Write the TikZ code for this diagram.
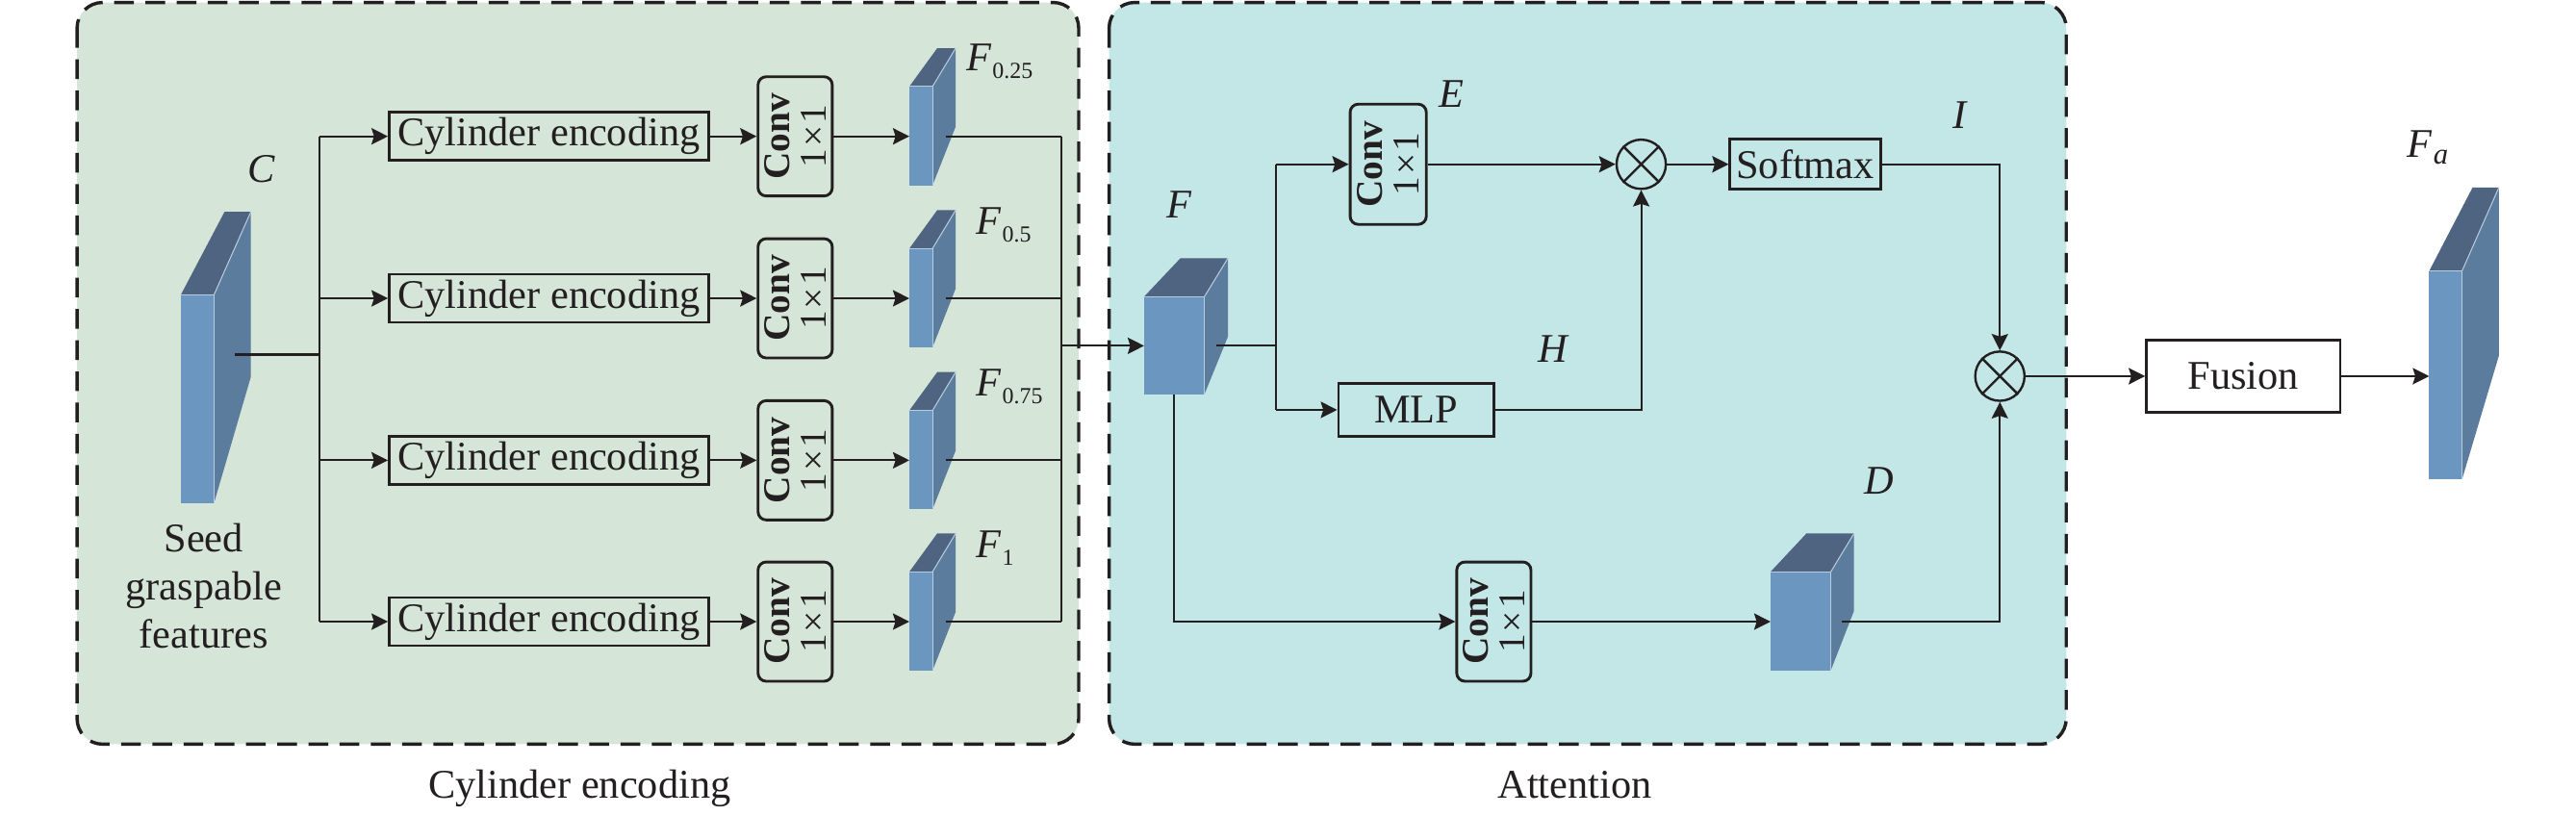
\documentclass[tikz,border=0pt]{standalone}
\usepackage{fontspec}
\setmainfont{Liberation Serif}
\usetikzlibrary{arrows.meta,shapes.geometric}
\definecolor{ink}{RGB}{35,31,32}
\definecolor{frontc}{RGB}{107,150,192}
\definecolor{topc}{RGB}{78,100,128}
\definecolor{sidec}{RGB}{92,124,158}
\definecolor{blockedge}{RGB}{185,205,225}
\definecolor{panelA}{RGB}{213,229,215}
\definecolor{panelB}{RGB}{195,230,230}
\newcommand\featblock[9]{%
  \fill[frontc] (#2,#7) rectangle (#3,#8);
  \fill[topc] (#2,#7) -- (#3,#7) -- (#4,#6) -- (#5,#6) -- cycle;
  \fill[sidec] (#3,#7) -- (#4,#6) -- (#4,#9) -- (#3,#8) -- cycle;
  \draw[blockedge,line width=0.3pt] (#2,#7) -- (#3,#7) -- (#3,#8);
  \draw[blockedge,line width=0.3pt] (#3,#7) -- (#4,#6);
}
\newcommand\fsub[1]{\textit{F}\kern0.2pt\raisebox{-2.3pt}{\fontsize{7}{8}\selectfont #1}}
\newcommand\convtext{\textbf{Conv}\\1\kern0.6pt×\kern0.6pt1}
\begin{document}
\begin{tikzpicture}[x=0.5pt,y=-0.5pt,
  every node/.style={font=\fontsize{12.4}{14.65}\selectfont, text=ink},
  conn/.style={draw=ink, line width=0.55pt},
  arr/.style={conn, -{Stealth[length=5pt,width=5pt,inset=0.8pt]}},
  box/.style={draw=ink, line width=0.85pt, inner sep=0pt},
  cylbox/.style={box, minimum width=97.15pt, minimum height=14.65pt},
  convbox/.style={box, rounded corners=2.5pt, rotate=90, minimum width=36.3pt,
     minimum height=22.6pt, align=center, inner sep=1pt, font=\fontsize{11.5}{11.2}\selectfont},
  otimes/.style={circle, draw=ink, line width=0.7pt, minimum size=15pt, inner sep=0pt},
  panel/.style={draw=ink, line width=1pt, dash pattern=on 6pt off 3.5pt, rounded corners=7.8pt},
  lab/.style={font=\fontsize{12.4}{14}\selectfont\itshape, anchor=base, inner sep=0pt},
  flab/.style={anchor=base west, inner sep=0pt},
]
\useasboundingbox (0,0) rectangle (1568,496);
% panels
\draw[panel, fill=panelA] (46.9,1.5) rectangle (656.6,453);
\draw[panel, fill=panelB] (675.1,1.5) rectangle (1257.7,453);
\node[anchor=base, inner sep=0pt] (capL) at (352.8,486) {Cylinder encoding};
\node[anchor=base, inner sep=0pt] (capR) at (958.6,486) {Attention};

% feature blocks
\featblock{C}{110}{130.2}{152.7}{136.7}{128.9}{179.6}{306.5}{229.4}
\featblock{F1}{553.5}{567.6}{581.7}{570.5}{29.3}{52.7}{112.9}{77.1}
\featblock{F2}{553.5}{567.6}{581.7}{570.5}{127.9}{151.3}{211.5}{175.7}
\featblock{F3}{553.5}{567.6}{581.7}{570.5}{226.5}{249.9}{310.1}{274.3}
\featblock{F4}{553.5}{567.6}{581.7}{570.5}{324.7}{348.1}{408.3}{372.5}
\featblock{F}{696.4}{733.1}{747.4}{718.5}{157.2}{180.6}{240.1}{205}
\featblock{D}{1077.7}{1114.4}{1128.5}{1099.6}{324.7}{348.1}{408.1}{371.9}
\featblock{Fa}{1478.6}{1498.6}{1521}{1505}{114.2}{165}{291.9}{216.7}

% block connection points
\coordinate (Cout) at (142.9,215.7);
\coordinate (F1in) at (553.5,83);    \coordinate (F1out) at (575.7,83);
\coordinate (F2in) at (553.5,181.6); \coordinate (F2out) at (575.7,181.6);
\coordinate (F3in) at (553.5,280.2); \coordinate (F3out) at (575.7,280.2);
\coordinate (F4in) at (553.5,378.4); \coordinate (F4out) at (575.7,378.4);
\coordinate (Fin) at (696.4,210.5);  \coordinate (Fout) at (740.5,210.5);
\coordinate (Fbot) at (714.6,240.1);
\coordinate (Din) at (1077.7,378.4); \coordinate (Dout) at (1121.3,378.4);
\coordinate (Fain) at (1478.6,229);

% junctions
\coordinate (jL0) at (194.5,215.7);
\coordinate (jL1) at (194.5,83);
\coordinate (jL2) at (194.5,181.6);
\coordinate (jL3) at (194.5,280.2);
\coordinate (jL4) at (194.5,378.4);
\coordinate (jR1) at (646.3,83);
\coordinate (jR2) at (646.3,181.6);
\coordinate (jR3) at (646.3,280.2);
\coordinate (jR4) at (646.3,378.4);
\coordinate (jRm) at (646.3,210.5);
\coordinate (jA0) at (776.6,210.5);
\coordinate (jA1) at (776.6,100);
\coordinate (jA2) at (776.6,249.5);
\coordinate (jA3) at (714.6,378.4);

% left panel nodes
\node[cylbox] (cyl1) at (334.1,83) {Cylinder encoding};
\node[cylbox] (cyl2) at (334.1,181.6) {Cylinder encoding};
\node[cylbox] (cyl3) at (334.1,280.2) {Cylinder encoding};
\node[cylbox] (cyl4) at (334.1,378.4) {Cylinder encoding};
\node[convbox] (conv1) at (484,83) {\convtext};
\node[convbox] (conv2) at (484,181.6) {\convtext};
\node[convbox] (conv3) at (484,280.2) {\convtext};
\node[convbox] (conv4) at (484,378.4) {\convtext};

% left panel connectors
\draw[conn, line width=0.9pt] (Cout) -- (jL0);
\draw[conn] (jL1) -- (jL4);
\foreach \i in {1,2,3,4}{
  \draw[arr] (jL\i) -- (cyl\i.west);
  \draw[arr] (cyl\i.east) -- (conv\i);
  \draw[arr] (conv\i) -- (F\i in);
  \draw[conn] (F\i out) -- (jR\i);
}
\draw[conn] (jR1) -- (jR4);
\draw[arr] (jRm) -- (Fin);

% left labels
\node[lab] (labC) at (159,111) {C};
\node[anchor=base, inner sep=0pt] (seed1) at (124,335.8) {Seed};
\node[anchor=base, inner sep=0pt] (seed2) at (124,365.1) {graspable};
\node[anchor=base, inner sep=0pt] (seed3) at (124,394.4) {features};
\node[flab] (labF1) at (588,43.3) {\fsub{0.25}};
\node[flab] (labF2) at (594,142.5) {\fsub{0.5}};
\node[flab] (labF3) at (594,241.2) {\fsub{0.75}};
\node[flab] (labF4) at (594,339.7) {\fsub{1}};

% attention nodes
\node[convbox, minimum width=36.6pt, minimum height=23.2pt] (convE) at (845,100) {\convtext};
\node[otimes] (mul1) at (999,100) {};
\node[box, minimum width=45.85pt, minimum height=15.1pt] (soft) at (1098.9,100) {Softmax};
\node[otimes] (mul2) at (1217.3,229) {};
\node[box, minimum width=47.25pt, minimum height=16.1pt] (mlp) at (862,249.5) {MLP};
\node[convbox, minimum width=36.3pt, minimum height=22.6pt] (convD) at (909.3,378.4) {\convtext};
\node[box, fill=white, minimum width=58.95pt, minimum height=21.95pt] (fusion) at (1365.5,229) {Fusion};
\foreach \m in {mul1,mul2}{
  \draw[ink, line width=0.7pt] (\m.45) -- (\m.225) (\m.135) -- (\m.315);
}

% attention connectors
\draw[conn] (Fout) -- (jA0);
\draw[conn] (jA1) -- (jA2);
\draw[arr] (jA1) -- (convE);
\draw[arr] (convE) -- (mul1);
\draw[arr] (mul1) -- (soft);
\draw[arr] (soft.east) -| (mul2.north);
\draw[arr] (jA2) -- (mlp);
\draw[arr] (mlp.east) -| (mul1.south);
\draw[arr] (Fbot) -- (jA3) -- (convD);
\draw[arr] (convD) -- (Din);
\draw[arr] (Dout) -| (mul2.south);
\draw[arr] (mul2) -- (fusion);
\draw[arr] (fusion) -- (Fain);

% attention labels
\node[lab] (labF) at (718,132.8) {F};
\node[lab] (labE) at (883.6,65.4) {E};
\node[lab] (labI) at (1193,78) {I};
\node[lab] (labH) at (945,220.6) {H};
\node[lab] (labD) at (1143.5,300.7) {D};
\node[flab] (labFa) at (1465,95.7) {\textit{F}\kern0.2pt\raisebox{-2pt}{\fontsize{9}{9}\selectfont\itshape a}};
\end{tikzpicture}
\end{document}
